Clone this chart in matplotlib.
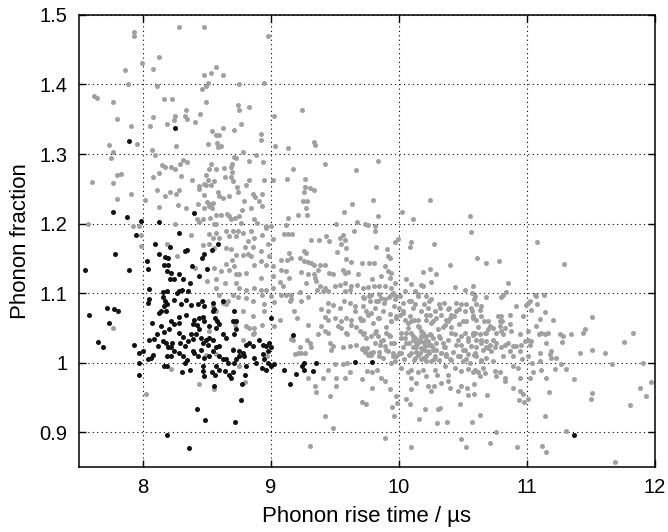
import matplotlib
matplotlib.use('Agg')
import matplotlib.pyplot as plt

plt.rcParams['font.family'] = ['Liberation Sans', 'DejaVu Sans']

# grey events (x = rise time / us, y = phonon fraction)
grey_top = [
    (8.281, 1.483), (8.477, 1.482), (7.93, 1.475), (7.935, 1.470), (8.98, 1.470), (8.125, 1.440),
    (7.99, 1.431), (7.862, 1.421), (8.081, 1.422), (8.573, 1.425), (8.534, 1.417), (8.479, 1.414),
    (8.63, 1.414), (7.888, 1.400), (8.112, 1.398), (8.508, 1.402), (8.497, 1.398), (8.464, 1.394),
    (8.75, 1.400), (8.948, 1.402), (7.622, 1.383), (7.64, 1.381), (7.766, 1.375), (8.164, 1.379),
    (8.229, 1.379), (8.495, 1.375), (8.745, 1.371), (8.75, 1.364), (8.828, 1.368), (8.339, 1.363),
    (7.802, 1.351), (8.083, 1.353), (8.255, 1.355), (8.242, 1.349), (8.328, 1.355), (8.349, 1.350),
    (8.45, 1.357), (8.409, 1.346), (9.023, 1.355), (7.906, 1.341), (8.057, 1.341), (8.188, 1.343),
    (8.63, 1.338), (8.766, 1.343), (8.542, 1.333), (8.714, 1.335), (8.573, 1.327), (8.594, 1.327),
    (8.922, 1.329), (8.922, 1.320), (7.732, 1.313), (7.958, 1.314), (8.26, 1.312), (8.513, 1.314),
    (8.581, 1.316), (8.586, 1.310), (8.612, 1.312), (9.031, 1.312), (7.766, 1.303), (7.755, 1.295),
    (8.07, 1.306), (8.094, 1.298), (8.711, 1.296), (8.729, 1.295), (8.781, 1.303), (8.888, 1.298),
    (8.94, 1.289), (8.318, 1.292), (8.346, 1.289), (8.289, 1.285), (8.536, 1.286), (8.7, 1.285),
    (8.693, 1.282), (8.831, 1.290), (8.148, 1.284), (8.172, 1.281), (8.224, 1.282), (8.255, 1.279),
    (8.516, 1.278), (8.57, 1.279), (8.635, 1.280),
    (9.245, 1.364), (9.135, 1.309), (9.336, 1.317), (9.349, 1.313), (9.839, 1.290), (9.427, 1.285),
    (9.174, 1.278), (9.669, 1.277),
]

grey_left = [
    (7.604, 1.26), (7.766, 1.258), (7.797, 1.270), (7.831, 1.271), (7.799, 1.235), (7.911, 1.242),
    (8.078, 1.267), (8.13, 1.273), (8.3, 1.268), (8.018, 1.234), (8.112, 1.248), (8.172, 1.239),
    (8.26, 1.242), (8.13, 1.224), (8.214, 1.246), (8.286, 1.249), (8.276, 1.227), (8.336, 1.222),
    (8.383, 1.263), (8.438, 1.254), (8.443, 1.250), (8.495, 1.270), (8.508, 1.263), (8.479, 1.257),
    (8.495, 1.256), (8.534, 1.255), (8.56, 1.261), (8.643, 1.267), (8.698, 1.274), (8.69, 1.267),
    (8.708, 1.261), (8.586, 1.246), (8.599, 1.239), (8.482, 1.241), (8.503, 1.231), (8.526, 1.228),
    (8.552, 1.230), (8.521, 1.225), (8.542, 1.223), (8.625, 1.237), (8.672, 1.239), (8.734, 1.252),
    (8.745, 1.245), (8.807, 1.256), (8.833, 1.262), (8.859, 1.243), (8.878, 1.238), (8.932, 1.242),
    (8.951, 1.263), (9.021, 1.263), (8.911, 1.232), (8.794, 1.232), (8.43, 1.228), (8.479, 1.222),
    (8.573, 1.213), (8.612, 1.213), (8.661, 1.214), (8.672, 1.211), (8.776, 1.219), (8.846, 1.222),
    (8.932, 1.225), (8.422, 1.207), (8.443, 1.203), (8.469, 1.206), (8.526, 1.208), (8.573, 1.199),
    (8.56, 1.200), (8.69, 1.207), (8.724, 1.208), (8.755, 1.211), (8.768, 1.201), (8.872, 1.206),
    (8.891, 1.201), (8.964, 1.196), (9.003, 1.196), (7.57, 1.199), (7.922, 1.196), (7.974, 1.196),
    (7.982, 1.183), (7.982, 1.168), (8.193, 1.170), (8.255, 1.199), (8.266, 1.153), (8.469, 1.169),
    (8.378, 1.184), (8.516, 1.185), (8.547, 1.179), (8.573, 1.187), (8.594, 1.180), (8.521, 1.170),
    (8.56, 1.165), (8.651, 1.190), (8.672, 1.182), (8.708, 1.189), (8.729, 1.182), (8.742, 1.190),
    (8.781, 1.187), (8.82, 1.175), (8.846, 1.189), (8.872, 1.179), (8.932, 1.184), (8.964, 1.194),
    (8.977, 1.170), (9.016, 1.178), (8.802, 1.167), (8.859, 1.167), (8.924, 1.160), (8.99, 1.153),
    (8.651, 1.165), (8.69, 1.163), (8.698, 1.148), (8.729, 1.155), (8.781, 1.155), (8.82, 1.156),
    (8.846, 1.153), (8.872, 1.141), (8.924, 1.146), (8.964, 1.141), (9.021, 1.139), (8.411, 1.136),
    (8.56, 1.136), (8.612, 1.132), (8.651, 1.142), (8.672, 1.134), (8.716, 1.139), (8.729, 1.127),
    (8.755, 1.127), (8.807, 1.129), (8.924, 1.122), (9.016, 1.124), (8.503, 1.117), (8.573, 1.120),
    (8.646, 1.115), (8.729, 1.115), (8.755, 1.108), (8.807, 1.104), (8.872, 1.108), (8.924, 1.105),
    (8.964, 1.104), (9.021, 1.108), (8.573, 1.107), (8.599, 1.097), (8.63, 1.086), (8.664, 1.089),
    (8.708, 1.097), (8.742, 1.094), (8.807, 1.093), (8.859, 1.089), (8.932, 1.097), (8.951, 1.084),
    (9.003, 1.096), (9.029, 1.088), (8.859, 1.067), (8.951, 1.074), (8.781, 1.074), (8.547, 1.081),
    (8.573, 1.074), (8.651, 1.084),
    (7.766, 1.050), (8.221, 0.991), (8.026, 0.955), (8.438, 0.970), (8.555, 0.962), (8.802, 0.972),
    (8.781, 1.033), (8.724, 1.054), (8.807, 1.053), (8.833, 1.050), (8.872, 1.050), (8.872, 1.043),
    (8.932, 1.054), (8.859, 1.041), (9.029, 1.053), (8.516, 1.045), (8.573, 1.012), (8.703, 1.020),
    (8.755, 0.995), (8.969, 1.010), (8.495, 1.011),
]

grey_middle = [
    (9.125, 1.264), (9.266, 1.264), (9.271, 1.253), (9.305, 1.251), (9.339, 1.249), (9.26, 1.245),
    (9.253, 1.232), (9.284, 1.232), (9.279, 1.222), (9.286, 1.212), (9.214, 1.212), (9.135, 1.208),
    (9.633, 1.228), (9.802, 1.234), (9.57, 1.217), (9.839, 1.211), (10.029, 1.216), (10.112, 1.207),
    (10.242, 1.234), (10.56, 1.211), (10.568, 1.188), (9.672, 1.203), (9.513, 1.199), (9.734, 1.199),
    (9.76, 1.198), (9.818, 1.196), (9.122, 1.198), (9.104, 1.185), (9.135, 1.185), (9.167, 1.185),
    (9.648, 1.190), (9.565, 1.184), (9.578, 1.177), (9.818, 1.189), (9.995, 1.178), (9.974, 1.174),
    (10.099, 1.174), (10.086, 1.167), (10.273, 1.171), (9.313, 1.176), (9.38, 1.176), (9.456, 1.175),
    (9.43, 1.182), (9.544, 1.179), (9.552, 1.170), (9.591, 1.165), (9.518, 1.159), (9.826, 1.167),
    (9.911, 1.163), (9.917, 1.153), (9.93, 1.151), (9.26, 1.161), (9.279, 1.158), (9.143, 1.158),
    (9.083, 1.147), (9.127, 1.147), (9.161, 1.151), (9.227, 1.150), (9.26, 1.146), (9.292, 1.145),
    (9.313, 1.143), (9.339, 1.141), (9.383, 1.141), (9.422, 1.141), (9.591, 1.149), (9.625, 1.145),
    (9.716, 1.144), (9.768, 1.144), (9.805, 1.144), (9.891, 1.139), (9.917, 1.132), (9.943, 1.129),
    (10.19, 1.131), (10.245, 1.135), (10.292, 1.128), (10.404, 1.140), (9.083, 1.133), (9.122, 1.132),
    (9.234, 1.131), (9.292, 1.127), (9.339, 1.127), (9.37, 1.133), (9.456, 1.129), (9.49, 1.128),
    (9.565, 1.134), (9.578, 1.129), (9.604, 1.131), (9.682, 1.127), (9.794, 1.120), (9.865, 1.124),
    (9.93, 1.122), (9.969, 1.115), (10.06, 1.121), (10.172, 1.112), (10.19, 1.111), (10.25, 1.116),
    (10.443, 1.109), (10.516, 1.104), (10.581, 1.110), (10.099, 1.113), (9.076, 1.116), (9.096, 1.111),
    (9.143, 1.122), (9.279, 1.115), (9.344, 1.122), (9.357, 1.118), (9.383, 1.111), (9.422, 1.107),
    (9.448, 1.103), (9.5, 1.110), (9.539, 1.112), (9.578, 1.115), (9.63, 1.111), (9.677, 1.112),
    (9.721, 1.108), (9.76, 1.109), (9.807, 1.111), (9.846, 1.111), (9.891, 1.110), (9.938, 1.108),
    (9.956, 1.100), (10.008, 1.096), (10.052, 1.103), (10.125, 1.103), (10.151, 1.099), (9.078, 1.098),
    (9.122, 1.098), (9.161, 1.091), (9.156, 1.098), (9.227, 1.101), (9.292, 1.094), (9.365, 1.105),
    (9.409, 1.103), (9.578, 1.103), (9.617, 1.104), (9.729, 1.093), (9.786, 1.098), (9.859, 1.093),
    (9.943, 1.098), (9.969, 1.091), (9.982, 1.096), (9.153, 1.089), (9.234, 1.089), (9.208, 1.064),
    (9.448, 1.086), (9.487, 1.083), (9.539, 1.079), (9.573, 1.089), (9.617, 1.086), (9.396, 1.077),
    (9.448, 1.074), (9.422, 1.066), (9.656, 1.081), (9.656, 1.074), (9.721, 1.081), (9.773, 1.089),
    (9.839, 1.089), (9.891, 1.091), (9.747, 1.074), (9.786, 1.072), (9.812, 1.079), (9.878, 1.074),
    (9.93, 1.070), (9.448, 1.062), (9.5, 1.065), (9.552, 1.060), (9.591, 1.065), (9.63, 1.061),
    (9.695, 1.065), (9.721, 1.062), (9.839, 1.065), (9.07, 1.062), (9.182, 1.075), (10.003, 1.079),
    (10.034, 1.074), (10.008, 1.069), (10.047, 1.062), (10.086, 1.067), (10.099, 1.060), (10.094, 1.089),
    (10.125, 1.084), (10.177, 1.074), (10.229, 1.079), (10.242, 1.069), (10.216, 1.096), (10.234, 1.089),
    (10.281, 1.074), (10.32, 1.079), (10.333, 1.069), (10.385, 1.077), (10.411, 1.069), (10.451, 1.074),
    (10.49, 1.084), (10.516, 1.074), (10.568, 1.079), (10.503, 1.060), (10.581, 1.064), (10.151, 1.062),
    (10.216, 1.062), (10.268, 1.060), (10.372, 1.061), (10.398, 1.065), (9.943, 1.060), (9.982, 1.064),
]

grey_core = [
    (9.719, 1.094), (9.771, 1.096), (9.823, 1.089), (9.849, 1.099), (9.888, 1.086), (9.927, 1.094),
    (9.966, 1.082), (10.031, 1.086), (10.083, 1.089), (10.109, 1.079), (10.148, 1.096), (10.201, 1.084),
    (10.253, 1.091), (10.318, 1.084), (10.357, 1.086), (10.396, 1.079), (10.448, 1.086), (10.474, 1.077),
    (10.526, 1.084), (10.591, 1.091), (10.643, 1.082), (10.682, 1.094),
    (9.706, 1.062), (9.758, 1.069), (9.797, 1.057), (9.849, 1.065), (9.901, 1.052), (9.940, 1.060),
    (9.979, 1.067), (10.031, 1.072), (10.070, 1.057), (10.122, 1.062), (10.161, 1.052), (10.214, 1.069),
    (10.253, 1.057), (10.292, 1.065), (10.344, 1.052), (10.383, 1.060), (10.435, 1.067), (10.474, 1.055),
    (10.526, 1.060), (10.578, 1.067), (10.617, 1.052), (10.669, 1.060),
    (9.732, 1.043), (9.784, 1.038), (9.823, 1.045), (9.875, 1.033), (9.927, 1.040), (9.966, 1.028),
    (10.018, 1.035), (10.057, 1.043), (10.083, 1.028), (10.109, 1.038), (10.135, 1.023), (10.161, 1.033),
    (10.188, 1.043), (10.201, 1.018), (10.227, 1.031), (10.253, 1.040), (10.266, 1.021), (10.292, 1.028),
    (10.318, 1.038), (10.331, 1.014), (10.357, 1.023), (10.383, 1.033), (10.409, 1.043), (10.422, 1.016),
    (10.448, 1.026), (10.487, 1.038), (10.500, 1.018), (10.539, 1.031), (10.578, 1.040), (10.604, 1.023),
    (10.643, 1.033), (10.682, 1.043), (10.695, 1.021),
    (9.719, 1.021), (9.758, 1.011), (9.797, 1.016), (9.849, 1.009), (9.901, 1.018), (9.953, 1.009),
    (10.005, 1.014), (10.044, 1.006), (10.083, 1.011), (10.122, 1.004), (10.148, 1.011), (10.174, 1.006),
    (10.214, 1.009), (10.240, 1.014), (10.279, 1.006), (10.318, 1.004), (10.370, 1.009), (10.409, 1.004),
    (10.461, 1.009), (10.526, 1.006), (10.591, 1.011), (10.643, 1.004),
    (10.109, 1.033), (10.148, 1.028), (10.174, 1.038), (10.201, 1.028), (10.214, 1.038), (10.240, 1.026),
    (10.266, 1.035), (10.292, 1.018), (10.174, 1.021), (10.135, 1.016), (10.227, 1.016),
]

grey_lower = [
    (9.161, 1.034), (9.174, 1.033), (9.214, 1.014), (9.188, 1.012), (9.24, 1.014), (9.266, 1.014),
    (9.227, 1.022), (9.292, 1.054), (9.286, 1.033), (9.305, 1.029), (9.313, 1.023), (9.37, 1.041),
    (9.396, 1.053), (9.427, 1.045), (9.448, 1.043), (9.461, 1.029), (9.487, 1.024), (9.474, 1.019),
    (9.526, 1.053), (9.552, 1.050), (9.591, 1.043), (9.599, 1.041), (9.625, 1.054), (9.669, 1.052),
    (9.695, 1.045), (9.721, 1.041), (9.747, 1.036), (9.565, 1.022), (9.617, 1.024), (9.669, 1.026),
    (9.714, 1.020), (9.734, 1.016), (9.755, 1.021), (9.773, 1.014), (9.786, 1.011), (9.812, 1.043),
    (9.839, 1.038), (9.865, 1.031), (9.904, 1.043), (9.93, 1.038), (9.943, 1.029), (9.812, 1.029),
    (9.852, 1.026), (9.891, 1.024), (9.917, 1.017), (9.956, 1.014), (9.982, 1.010), (9.844, 1.015),
    (9.878, 1.007), (9.943, 1.000), (9.974, 1.002),
    (10.021, 1.043), (10.047, 1.036), (10.06, 1.029), (10.034, 1.022), (10.021, 1.014), (10.073, 1.050),
    (10.099, 1.043), (10.125, 1.036), (10.138, 1.029), (10.112, 1.022), (10.099, 1.014), (10.125, 1.007),
    (10.151, 1.053), (10.177, 1.045), (10.19, 1.038), (10.177, 1.031), (10.203, 1.024), (10.229, 1.017),
    (10.216, 1.033), (10.242, 1.041), (10.255, 1.026), (10.268, 1.019), (10.281, 1.010), (10.164, 1.014),
    (10.19, 1.007), (10.216, 1.002), (10.255, 1.002), (10.307, 1.048), (10.32, 1.036), (10.346, 1.029),
    (10.359, 1.022), (10.333, 1.014), (10.372, 1.012), (10.398, 1.005), (10.359, 1.054), (10.411, 1.052),
    (10.438, 1.041), (10.464, 1.033), (10.49, 1.026), (10.516, 1.019), (10.542, 1.012), (10.568, 1.024),
    (10.477, 1.010), (10.503, 1.002), (10.555, 1.000), (10.516, 1.043), (10.542, 1.036), (10.581, 1.043),
    (9.292, 0.978), (9.344, 0.967), (9.357, 0.958), (9.409, 0.978), (9.448, 0.990), (9.5, 0.998),
    (9.513, 0.978), (9.513, 0.967), (9.578, 0.978), (9.617, 0.986), (9.565, 0.998), (9.599, 0.999),
    (9.716, 0.977), (9.755, 0.988), (9.794, 0.986), (9.833, 0.990), (9.865, 0.978), (9.891, 0.974),
    (9.93, 0.962), (9.792, 0.964), (9.461, 0.952), (9.716, 0.944), (9.747, 0.941), (9.422, 0.923),
    (9.487, 0.906), (9.891, 0.892), (9.305, 0.880), (9.948, 0.937), (9.99, 0.942), (9.961, 0.923),
    (9.982, 0.952), (10.021, 0.993), (10.073, 0.986), (10.099, 0.990), (10.151, 0.986), (10.19, 0.990),
    (10.216, 0.981), (10.281, 0.990), (10.302, 0.983), (10.099, 0.978), (10.138, 0.971), (10.099, 0.962),
    (10.06, 0.948), (10.086, 0.941), (10.203, 0.934), (10.156, 0.919), (10.099, 0.879), (10.229, 0.967),
    (10.255, 0.959), (10.276, 0.967), (10.333, 0.971), (10.385, 0.974), (10.398, 0.964), (10.307, 0.933),
    (10.32, 0.935), (10.302, 0.914), (10.38, 0.915), (10.464, 0.959), (10.49, 0.967), (10.536, 0.963),
    (10.477, 0.940), (10.542, 0.953), (10.576, 0.915), (10.484, 0.891), (10.523, 0.879), (10.438, 0.993),
    (10.49, 0.988), (10.542, 0.991), (10.581, 0.986), (10.359, 0.995), (10.385, 0.983),
]

grey_right = [
    (10.615, 1.150), (10.68, 1.143), (10.781, 1.146), (11.078, 1.174), (11.292, 1.142), (10.857, 1.115),
    (10.576, 1.100), (10.594, 1.096), (10.802, 1.095), (10.815, 1.098), (10.836, 1.101), (10.607, 1.085),
    (10.576, 1.074), (10.581, 1.067), (10.607, 1.062), (10.646, 1.067), (10.633, 1.076), (10.698, 1.060),
    (10.776, 1.067), (10.802, 1.067), (10.789, 1.060), (10.81, 1.060), (10.867, 1.069), (10.914, 1.081),
    (10.971, 1.067), (10.997, 1.083), (11.01, 1.086), (11.023, 1.089), (11.036, 1.076), (11.063, 1.098),
    (11.076, 1.096), (11.081, 1.085), (11.133, 1.097), (11.141, 1.073), (11.107, 1.063), (11.206, 1.061),
    (11.513, 1.066),
    (10.594, 1.043), (10.633, 1.041), (10.672, 1.043), (10.698, 1.048), (10.711, 1.053), (10.737, 1.050),
    (10.763, 1.043), (10.789, 1.053), (10.802, 1.045), (10.815, 1.041), (10.607, 1.033), (10.646, 1.029),
    (10.685, 1.031), (10.711, 1.026), (10.737, 1.033), (10.763, 1.029), (10.659, 1.019), (10.685, 1.022),
    (10.724, 1.017), (10.75, 1.022), (10.802, 1.022), (10.828, 1.026), (10.594, 1.014), (10.607, 1.010),
    (10.646, 1.002), (10.685, 1.007), (10.737, 1.002), (10.828, 1.050), (10.867, 1.055), (10.88, 1.045),
    (10.945, 1.041), (10.958, 1.026), (10.984, 1.031), (11.01, 1.045), (11.01, 1.033), (11.036, 1.031),
    (11.023, 1.026), (11.076, 1.053), (11.096, 1.041), (11.115, 1.043), (11.141, 1.041), (11.167, 1.043),
    (11.154, 1.029), (11.19, 1.017), (10.854, 1.029), (10.867, 1.017), (10.893, 1.024), (10.919, 1.024),
    (10.945, 1.017), (10.966, 1.005), (10.893, 1.010), (10.815, 1.010), (11.01, 1.010), (11.044, 1.000),
    (11.102, 1.014), (11.102, 1.002), (11.18, 1.012), (11.193, 1.007), (11.232, 1.007), (11.258, 1.041),
    (11.284, 1.038), (11.279, 1.030), (11.349, 1.041), (11.44, 1.043), (11.456, 1.049), (11.414, 1.014),
    (11.513, 1.018), (11.609, 1.014), (11.758, 1.030), (11.831, 1.043), (11.667, 0.998), (11.909, 0.999),
    (10.594, 0.990), (10.62, 0.987), (10.659, 0.993), (10.672, 0.985), (10.633, 0.981), (10.75, 0.988),
    (10.763, 0.981), (10.789, 0.986), (10.828, 0.978), (10.828, 0.974), (10.893, 0.995), (10.932, 0.993),
    (10.945, 0.978), (11.023, 0.978), (11.049, 0.986), (11.115, 0.990), (11.154, 0.978), (11.219, 0.991),
    (11.271, 0.998), (11.31, 0.991), (11.367, 0.976), (10.586, 0.969), (10.893, 0.964), (10.945, 0.959),
    (10.971, 0.955), (10.94, 0.947), (10.977, 0.944), (11.01, 0.948), (11.172, 0.958), (10.69, 0.953),
    (10.586, 0.955), (10.633, 0.925), (10.758, 0.900), (10.716, 0.885), (10.924, 0.879), (11.143, 0.924),
    (11.31, 0.902), (11.122, 0.881), (11.154, 0.872), (11.513, 0.956), (11.505, 0.948), (11.688, 0.858),
    (11.805, 0.939), (11.883, 0.964), (11.93, 0.952), (11.974, 0.972),
]

# black events
black_pts = [
    (8.25, 1.337), (7.896, 1.319),
    (7.766, 1.217), (7.875, 1.209), (7.987, 1.204), (8.125, 1.202), (8.404, 1.215), (7.943, 1.184),
    (8.281, 1.186), (7.779, 1.156), (8.099, 1.170), (8.214, 1.166), (8.326, 1.161), (8.344, 1.162),
    (8.177, 1.152), (8.198, 1.150), (8.13, 1.156), (8.482, 1.156), (8.464, 1.151), (8.539, 1.162),
    (8.591, 1.171), (7.552, 1.133), (7.896, 1.134), (8.034, 1.146), (8.039, 1.135), (8.167, 1.140),
    (8.198, 1.141), (8.188, 1.132), (8.219, 1.129), (8.216, 1.120), (8.242, 1.120), (8.281, 1.127),
    (8.313, 1.121), (8.385, 1.139), (8.443, 1.124), (8.503, 1.135), (8.37, 1.115), (8.052, 1.106),
    (8.156, 1.102), (8.188, 1.103), (8.268, 1.100), (8.286, 1.103), (8.305, 1.105), (8.352, 1.103),
    (8.052, 1.091), (8.039, 1.086), (8.156, 1.094), (8.177, 1.089), (8.188, 1.084), (8.169, 1.081),
    (8.143, 1.074), (8.13, 1.072), (8.182, 1.074), (8.247, 1.090), (8.299, 1.085), (8.338, 1.090),
    (8.378, 1.083), (8.43, 1.084), (8.464, 1.089), (8.482, 1.081), (8.547, 1.086), (8.56, 1.077),
    (8.625, 1.089), (8.716, 1.074), (7.719, 1.078), (7.776, 1.077), (7.805, 1.074), (7.578, 1.068),
    (7.732, 1.057), (8.073, 1.057), (8.221, 1.060), (8.286, 1.066), (8.281, 1.057), (8.338, 1.068),
    (8.404, 1.062), (8.443, 1.064), (8.469, 1.066), (8.482, 1.060), (8.547, 1.074), (8.568, 1.064),
    (8.578, 1.060), (8.703, 1.060), (8.729, 1.060), (9.003, 1.064),
    (7.646, 1.030), (7.690, 1.022), (7.932, 1.026), (7.969, 1.014), (8.005, 1.017), (7.974, 1.000),
    (7.974, 0.983), (8.039, 1.005), (8.065, 1.007), (8.078, 1.011), (8.052, 1.033), (8.091, 1.034),
    (8.109, 1.041), (8.143, 1.053), (8.169, 1.044), (8.182, 1.029), (8.195, 1.022), (8.229, 1.029),
    (8.221, 1.022), (8.247, 1.017), (8.187, 1.010), (8.221, 1.009), (8.169, 0.995), (8.187, 0.995),
    (8.208, 1.049), (8.247, 1.055), (8.286, 1.043), (8.313, 1.037), (8.292, 1.029), (8.333, 1.024),
    (8.352, 1.031), (8.281, 1.014), (8.313, 1.010), (8.344, 1.004), (8.333, 1.000), (8.365, 0.990),
    (8.307, 0.987), (8.378, 1.041), (8.391, 1.034), (8.417, 1.041), (8.391, 1.055), (8.422, 1.054),
    (8.443, 1.048), (8.456, 1.036), (8.495, 1.033), (8.521, 1.036), (8.547, 1.033), (8.469, 1.029),
    (8.508, 1.026), (8.391, 1.017), (8.404, 1.014), (8.43, 1.010), (8.456, 1.019), (8.482, 1.007),
    (8.521, 1.010), (8.547, 1.017), (8.573, 1.022), (8.599, 1.024), (8.599, 1.010), (8.625, 1.005),
    (8.651, 1.006), (8.664, 1.000), (8.469, 0.995), (8.474, 0.988), (8.482, 0.981), (8.539, 0.986),
    (8.565, 0.983), (8.56, 0.967), (8.573, 0.995), (8.599, 0.990), (8.646, 0.988), (8.672, 0.983),
    (8.69, 0.978), (8.703, 0.986), (8.716, 1.000), (8.729, 1.005), (8.755, 1.010), (8.703, 1.019),
    (8.755, 1.017), (8.781, 1.014), (8.794, 1.010), (8.807, 0.995), (8.802, 0.982), (8.776, 0.969),
    (8.768, 0.947), (8.422, 0.934), (8.484, 0.917), (8.719, 0.915), (8.19, 0.896), (8.359, 0.878),
    (8.521, 1.053), (8.573, 1.050), (8.599, 1.055), (8.625, 1.041), (8.651, 1.036), (8.716, 1.041),
    (8.729, 1.048), (8.807, 1.026), (8.833, 1.029), (8.859, 1.024), (8.911, 1.033), (8.937, 1.026),
    (8.964, 1.024), (8.977, 1.017), (8.99, 1.029), (9.003, 1.022), (8.937, 1.012), (8.951, 1.006),
    (8.977, 1.000), (8.932, 0.993), (8.964, 0.990), (9.003, 0.995), (9.029, 0.998), (8.872, 1.007),
    (8.885, 1.000), (8.156, 1.031), (8.117, 1.024),
    (9.174, 1.040), (9.104, 0.989), (9.148, 0.969), (9.195, 0.984), (9.245, 0.995), (9.26, 0.999),
    (9.26, 0.990), (9.331, 0.988), (9.357, 0.999), (9.656, 1.001), (9.792, 1.001),
    (11.367, 0.896),
]

x_ticks = [8, 9, 10, 11, 12]
y_ticks = [0.9, 1.0, 1.1, 1.2, 1.3, 1.4, 1.5]
y_tick_labels = ['0.9', '1', '1.1', '1.2', '1.3', '1.4', '1.5']

fig = plt.figure(figsize=(6.68, 5.32), dpi=100)
ax = fig.add_axes([0.118, 0.122, 0.862, 0.850])

grey = grey_top + grey_left + grey_middle + grey_core + grey_lower + grey_right
gx, gy = zip(*grey)
bx, by = zip(*black_pts)
ax.scatter(gx, gy, s=13, color='#a0a0a0', linewidths=0, zorder=2)
ax.scatter(bx, by, s=13, color='#111111', linewidths=0, zorder=3)

ax.set_xlim(7.5, 12)
ax.set_ylim(0.85, 1.5)
ax.set_xticks(x_ticks)
ax.set_xticklabels([str(t) for t in x_ticks])
ax.set_yticks(y_ticks)
ax.set_yticklabels(y_tick_labels)

ax.grid(True, color='black', linestyle=(0, (1, 3)), linewidth=0.8)
ax.set_axisbelow(True)
ax.tick_params(direction='in', top=True, right=True, length=5, width=1,
               pad=8, labelsize=14.5)
for sp in ax.spines.values():
    sp.set_linewidth(1.1)

ax.set_xlabel('Phonon rise time / µs', fontsize=16, labelpad=6)
ax.set_ylabel('Phonon fraction', fontsize=16, labelpad=6)

fig.savefig('out.png', dpi=100)
